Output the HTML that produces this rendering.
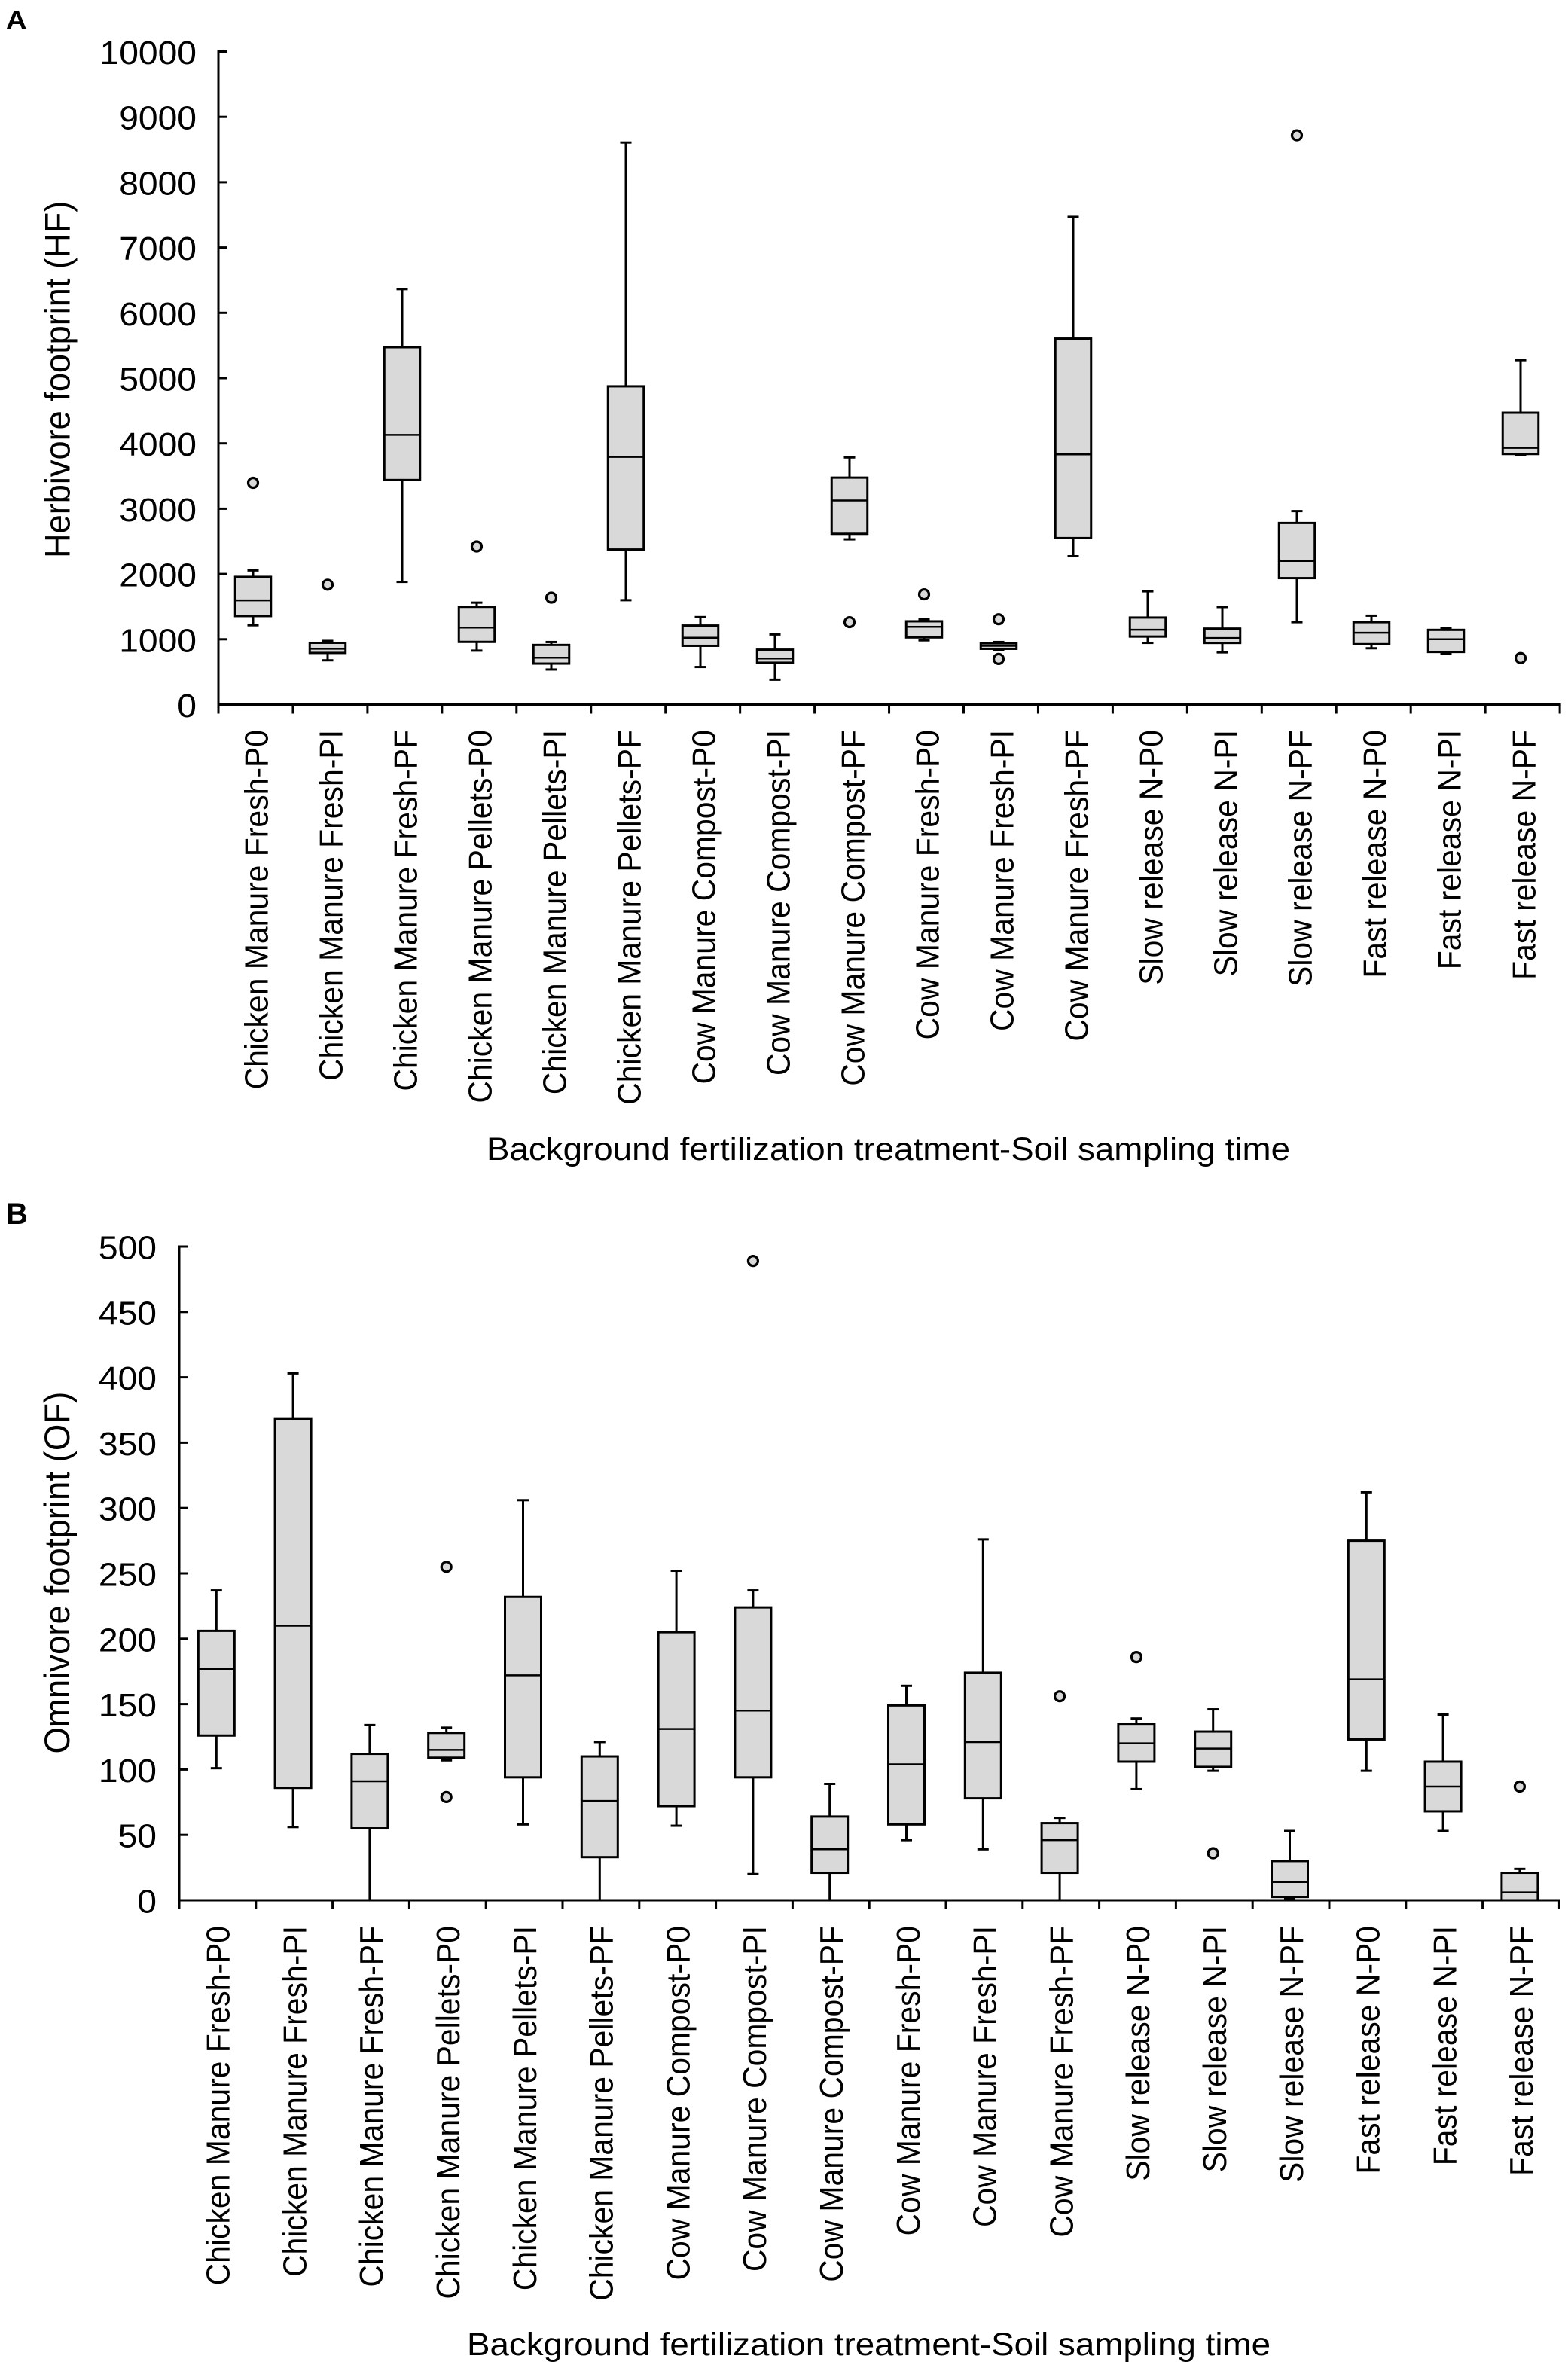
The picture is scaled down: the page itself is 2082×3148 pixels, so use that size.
<!DOCTYPE html>
<html lang="en">
<head>
<meta charset="utf-8">
<title>Herbivore and omnivore footprint box plots</title>
<style>
html,body{margin:0;padding:0;background:#fff;}
svg{display:block;}
text{font-family:"Liberation Sans",Arial,sans-serif;fill:#000;}
</style>
</head>
<body>
<svg id="figure" xmlns="http://www.w3.org/2000/svg" width="2082" height="3148" viewBox="0 0 2082 3148">
<rect width="2082" height="3148" fill="#fff"/>
<text transform="translate(8 38) scale(1.12 1)" font-size="34" font-weight="bold">A</text>
<text x="8" y="1625" font-size="40" font-weight="bold">B</text>
<text transform="translate(92.4 741) rotate(-90) scale(0.961 1)" font-size="47">Herbivore footprint (HF)</text>
<text transform="translate(92 2328.5) rotate(-90) scale(0.969 1)" font-size="47">Omnivore footprint (OF)</text>
<text x="646" y="1540" font-size="43" textLength="1067" lengthAdjust="spacingAndGlyphs">Background fertilization treatment-Soil sampling time</text>
<text x="620" y="3127" font-size="43" textLength="1067" lengthAdjust="spacingAndGlyphs">Background fertilization treatment-Soil sampling time</text>
</svg>
<script>
const categories = [
  "Chicken Manure Fresh-P0","Chicken Manure Fresh-PI","Chicken Manure Fresh-PF",
  "Chicken Manure Pellets-P0","Chicken Manure Pellets-PI","Chicken Manure Pellets-PF",
  "Cow Manure Compost-P0","Cow Manure Compost-PI","Cow Manure Compost-PF",
  "Cow Manure Fresh-P0","Cow Manure Fresh-PI","Cow Manure Fresh-PF",
  "Slow release N-P0","Slow release N-PI","Slow release N-PF",
  "Fast release N-P0","Fast release N-PI","Fast release N-PF"
];

const herbivoreTicks = [0,1000,2000,3000,4000,5000,6000,7000,8000,9000,10000];
const herbivoreLow = [1215,678,1879,826,537,1599,576,382,2531,984,835,2272,945,800,1262,862,781,3819];
const herbivoreQ1 = [1356,791,3439,960,628,2375,900,641,2615,1029,854,2550,1042,944,1937,925,806,3838];
const herbivoreMedian = [1596,855,4131,1179,718,3793,1023,706,3126,1191,900,3832,1146,1019,2200,1100,1000,3931];
const herbivoreQ3 = [1956,946,5473,1497,913,4874,1210,841,3476,1275,938,5605,1333,1163,2781,1262,1144,4469];
const herbivoreHigh = [2055,975,6363,1561,958,8608,1340,1074,3786,1307,958,7469,1735,1494,2963,1362,1169,5275];
const herbivoreOutliers = [[3397],[1836],[],[2422],[1638],[],[],[],[1262],[1689],[1307,699],[],[],[],[8719],[],[],[712]];

const omnivoreTicks = [0,50,100,150,200,250,300,350,400,450,500];
const omnivoreLow = [101,56,0,107,58,0,57,20,0,46,39,0,85,99,1,99,53,0];
const omnivoreQ1 = [126,86,55,109,94,33,72,94,21,58,78,21,106,102,2.5,123,68,0];
const omnivoreMedian = [177,210,91,115,172,76,131,145,39,104,121,46,120,116,14,169,87,6];
const omnivoreQ3 = [206,368,112,128,232,110,205,224,64,149,174,59,135,129,30,275,106,21];
const omnivoreHigh = [237,403,134,132,306,121,252,237,89,164,276,63,139,146,53,312,142,24];
const omnivoreOutliers = [[],[],[],[255,79],[],[],[],[489],[],[],[],[156],[186],[36],[],[],[],[87]];

const SVG_NS = "http://www.w3.org/2000/svg";
const figure = document.getElementById("figure");

function shape(parent, tag, attrs) {
  const node = document.createElementNS(SVG_NS, tag);
  Object.keys(attrs).forEach(function (k) { node.setAttribute(k, attrs[k]); });
  parent.appendChild(node);
  return node;
}

function drawPanel(p) {
  const yScale = function (v) { return p.y0 - (v / p.yMax) * (p.y0 - p.yTop); };
  const boxCenter = function (i) { return p.center0 + i * p.centerStep; };
  const tickX = function (i) { return p.axisX + i * p.tickStep; };
  const labelX = function (i) { return p.label0 + i * p.labelStep; };

  const panel = shape(figure, "g", {});
  
  

  categories.forEach(function (name, i) {
    const cx = boxCenter(i);
    const group = shape(panel, "g", {});
    
    

    const line = { stroke: "#000", "stroke-width": p.stroke };
    const wh = shape(group, "line", Object.assign({ x1: cx, x2: cx, y1: yScale(p.low[i]), y2: yScale(p.high[i]) }, line));
    
    
    [p.low[i], p.high[i]].forEach(function (v) {
      const cap = shape(group, "line", Object.assign({ x1: cx - 7.5, x2: cx + 7.5, y1: yScale(v), y2: yScale(v) }, line));
      
      
    });
    const rect = shape(group, "rect", {
      x: cx - p.boxWidth / 2, width: p.boxWidth,
      y: yScale(p.q3[i]), height: yScale(p.q1[i]) - yScale(p.q3[i]),
      fill: "#d9d9d9", stroke: "#000", "stroke-width": p.stroke
    });
    
    
    const med = shape(group, "line", {
      x1: cx - p.boxWidth / 2, x2: cx + p.boxWidth / 2,
      y1: yScale(p.median[i]), y2: yScale(p.median[i]),
      stroke: "#000", "stroke-width": 2.5
    });
    
    
    p.outliers[i].forEach(function (v) {
      const dot = shape(group, "circle", {
        cx: cx, cy: yScale(v), r: 6.5, fill: "#d9d9d9", stroke: "#000", "stroke-width": 3.2
      });
      
      
    });

    const label = shape(panel, "text", {
      transform: "translate(" + labelX(i) + " " + p.labelTop + ") rotate(-90) scale(0.93 1)",
      "font-size": 44, "text-anchor": "end"
    });
    
    
    label.textContent = name;
  });

  const xEnd = tickX(categories.length);
  const axisAttrs = { stroke: "#000", "stroke-width": 3 };
  const yAxis = shape(panel, "line", Object.assign({ x1: p.axisX, x2: p.axisX, y1: p.yTop - 1.5, y2: p.y0 + 12 }, axisAttrs));
  
  
  const xAxis = shape(panel, "line", Object.assign({ x1: p.axisX, x2: xEnd + 1.5, y1: p.y0, y2: p.y0 }, axisAttrs));
  
  

  for (let i = 1; i <= categories.length; i++) {
    const t = shape(panel, "line", Object.assign({ x1: tickX(i), x2: tickX(i), y1: p.y0, y2: p.y0 + 12 }, axisAttrs));
    
    
  }
  p.ticks.forEach(function (v) {
    const y = yScale(v);
    const t = shape(panel, "line", Object.assign({ x1: p.axisX, x2: p.axisX + 12, y1: y, y2: y }, axisAttrs));
    
    
    const lab = shape(panel, "text", {
      transform: "translate(" + p.tickLabelRight + " " + (y + 16.5) + ") scale(1.05 1)",
      "font-size": 44, "text-anchor": "end"
    });
    
    
    lab.textContent = String(v);
  });
}

drawPanel({
  id: "herbivore", yMax: 10000, y0: 935.5, yTop: 68.5,
  axisX: 290, tickStep: 98.95, center0: 336, centerStep: 99.0,
  label0: 355.6, labelStep: 99, labelTop: 969, tickLabelRight: 261,
  boxWidth: 47.5, stroke: 3,
  ticks: herbivoreTicks, low: herbivoreLow, q1: herbivoreQ1, median: herbivoreMedian,
  q3: herbivoreQ3, high: herbivoreHigh, outliers: herbivoreOutliers
});
drawPanel({
  id: "omnivore", yMax: 500, y0: 2523, yTop: 1655,
  axisX: 238, tickStep: 101.8, center0: 287.3, centerStep: 101.8,
  label0: 304.6, labelStep: 101.8, labelTop: 2557, tickLabelRight: 208,
  boxWidth: 48, stroke: 3,
  ticks: omnivoreTicks, low: omnivoreLow, q1: omnivoreQ1, median: omnivoreMedian,
  q3: omnivoreQ3, high: omnivoreHigh, outliers: omnivoreOutliers
});
</script>
</body>
</html>
